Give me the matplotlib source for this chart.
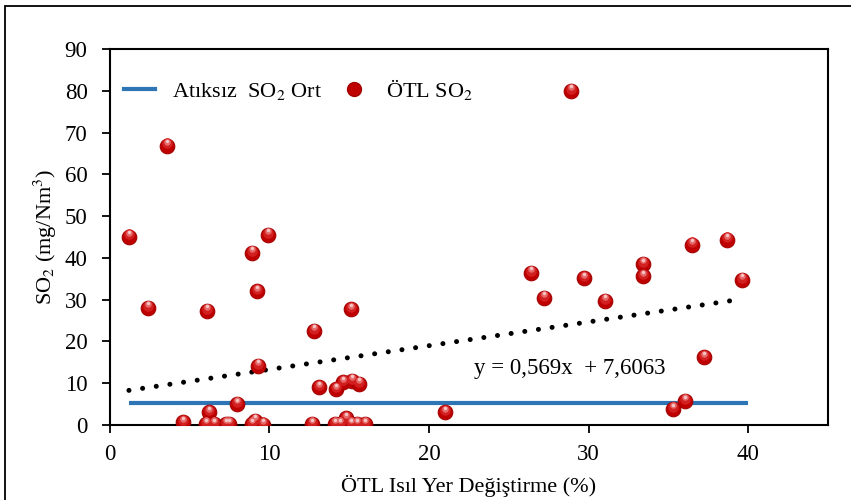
import matplotlib
matplotlib.use("Agg")
import matplotlib.pyplot as plt
import matplotlib.transforms as mtransforms
from matplotlib.patches import Rectangle
from matplotlib.lines import Line2D
import numpy as np

plt.rcParams['font.family'] = ['Liberation Serif', 'DejaVu Serif']
plt.rcParams['mathtext.fontset'] = 'stix'

# Measured SO2 values for the co-fired runs
otl_x = [1.2, 2.4, 3.6, 4.6, 6.1, 6.2, 6.0, 6.5, 7.3, 7.45, 8.0, 8.9, 9.2, 9.3,
         9.9, 8.9, 9.1, 9.6, 12.8, 13.1, 12.7, 14.2, 14.6, 15.2, 15.6, 15.1,
         14.1, 14.4, 14.8, 15.1, 15.5, 16.0, 21.0, 26.4, 27.2, 28.9, 29.7,
         31.0, 33.4, 33.4, 35.3, 36.05, 36.5, 37.2, 38.7, 39.6]
otl_y = [45.1, 28.0, 66.9, 0.6, 27.3, 3.0, 0.2, 0.2, 0.2, 0.2, 5.0, 41.2, 32.0, 14.2,
         45.5, 0.2, 1.0, 0.1, 22.5, 9.0, 0.2, 8.5, 10.2, 10.6, 9.8, 27.7,
         0.2, 0.2, 1.6, 0.2, 0.2, 0.2, 3.0, 36.4, 30.4, 80.0, 35.1,
         29.7, 38.5, 35.6, 3.8, 5.7, 43.2, 16.2, 44.4, 34.8]

# Average SO2 without waste
base_x = [1.2, 40.0]
base_y = [5.3, 5.3]

# Linear trend of the co-fired values
slope, intercept = 0.569, 7.6063
trend_x = np.array([1.2, 39.6])

fig = plt.figure(figsize=(8.51, 5.0), dpi=100)
ax = fig.add_axes([0.129, 0.15, 0.844, 0.752])

ax.plot(base_x, base_y, color='#2E75B6', lw=3.0, zorder=2, solid_capstyle='butt')
ax.plot(trend_x, slope * trend_x + intercept, color='black', lw=3.6,
        linestyle=(0, (0.01, 2.75)), dash_capstyle='round', zorder=2)

# Shaded sphere markers: base disc plus lighter offset layers
def up(dy):
    return mtransforms.offset_copy(ax.transData, fig=fig, x=0, y=dy, units='points')

ax.scatter(otl_x, otl_y, s=110, color='#C00000', edgecolors='#A30000',
           linewidths=0.8, zorder=3)
ax.scatter(otl_x, otl_y, s=58, color='#D22020', linewidths=0,
           zorder=4, transform=up(1.5))
ax.scatter(otl_x, otl_y, s=22, color='#E66A6A', linewidths=0,
           zorder=5, transform=up(2.7))
ax.scatter(otl_x, otl_y, s=6, color='#F6C4C4', linewidths=0,
           zorder=6, transform=up(3.3))

ax.set_xlim(0, 45)
ax.set_ylim(0, 90)
ax.set_xticks([0, 10, 20, 30, 40])
ax.set_yticks(range(0, 91, 10))
ax.tick_params(direction='out', length=5.5, width=1.3, labelsize=16.5,
               top=False, right=False)
ax.tick_params(axis='x', pad=8.5)
ax.tick_params(axis='y', pad=10.5)
for sp in ax.spines.values():
    sp.set_linewidth(1.5)
    sp.set_color('black')

ax.set_xlabel('ÖTL Isıl Yer Değiştirme (%)', fontsize=16, labelpad=7)
ax.set_ylabel('SO$_2$ (mg/Nm$^3$)', fontsize=16, labelpad=4)

ax.text(22.8, 13.6, 'y = 0,569x  + 7,6063', fontsize=16.5, ha='left', va='center')

handles = [
    Line2D([], [], color='#2E75B6', lw=3.0),
    Line2D([], [], marker='o', linestyle='none', markersize=10,
           markerfacecolor='#C00000', markeredgecolor='#A30000'),
]
labels = ['Atıksız  SO$_2$ Ort', 'ÖTL SO$_2$']
ax.legend(handles, labels, loc='center left', bbox_to_anchor=(0.0195, 0.893),
          ncol=2, frameon=False, fontsize=16, handlelength=1.4,
          columnspacing=0.75, handletextpad=0.75, borderpad=0, borderaxespad=0)

fig.patches.append(Rectangle((5 / 851, -0.2), 2.0, 1.2 - 6 / 500,
                             transform=fig.transFigure, fill=False,
                             edgecolor='black', lw=1.3))

fig.savefig('out.png', dpi=100)
